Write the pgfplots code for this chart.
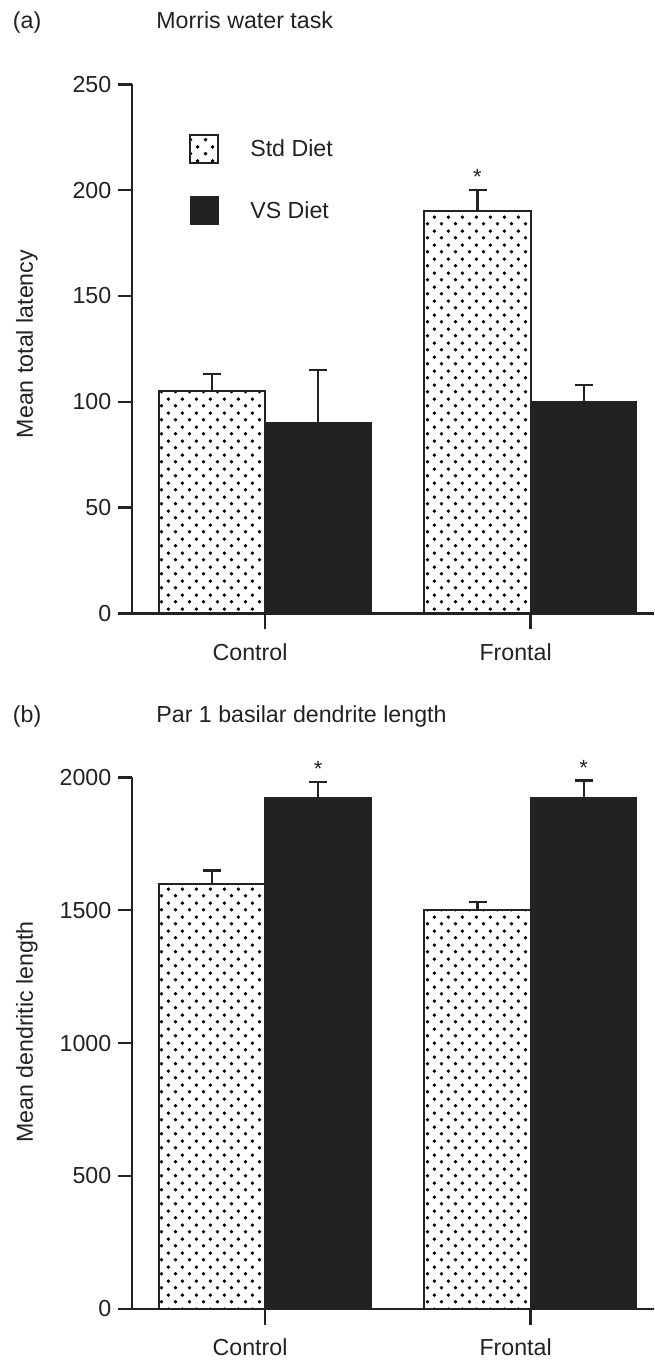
\documentclass[border=0pt]{standalone}
\usepackage{fontspec}
\setmainfont{Liberation Sans}
\usepackage{pgfplots}
\pgfplotsset{compat=1.18}
\usetikzlibrary{patterns}

\definecolor{ink}{HTML}{222222}

% staggered dot fill of the Std Diet bars
\pgfdeclarepatternformonly{stddots}{\pgfqpoint{0pt}{0pt}}{\pgfqpoint{7.2pt}{7pt}}{\pgfqpoint{7.2pt}{7pt}}{%
  \pgfpathcircle{\pgfqpoint{1.8pt}{1.75pt}}{1pt}%
  \pgfpathcircle{\pgfqpoint{5.4pt}{5.25pt}}{1pt}%
  \pgfusepath{fill}}

\pgfplotsset{
  panel/.style={
    scale only axis, width=260.85pt,
    axis x line*=bottom, axis y line*=left,
    axis line style={draw=ink, line width=1.2pt, -},
    xmin=0.5, xmax=2.4646, ymin=0,
    xtick={1,2}, xticklabels={Control,Frontal},
    tick align=outside,
    major tick length=7pt,
    xtick style={/pgfplots/major tick length=8pt},
    tick style={draw=ink, line width=1.2pt},
    ytick style={draw=ink, line width=1.2pt},
    minor tick num=0,
    /pgf/number format/assume math mode=true,
    /pgf/number format/1000 sep={},
    tick label style={font=\fontsize{11.6}{13}\selectfont, text=ink},
    xticklabel style={xshift=-7.5pt, yshift=-4.5pt},
    clip=false,
    error bars/error bar style={draw=ink, line width=1.2pt},
    error bars/error mark=|,
    error bars/error mark options={draw=ink, line width=1.2pt, mark size=4.5pt},
  },
  stdbar/.style={ybar, bar width=0.4, bar shift=0pt, draw=ink, line width=1pt,
    pattern=stddots, pattern color=black,
    error bars/y dir=plus, error bars/y explicit},
  vsbar/.style={ybar, bar width=0.4, bar shift=0pt, draw=ink, line width=0.6pt,
    fill=ink,
    error bars/y dir=plus, error bars/y explicit},
}

\begin{document}
\begin{tikzpicture}
\useasboundingbox (0pt,0pt) rectangle (327pt,-680.5pt);

\tikzset{lbl/.style={font=\fontsize{11.6}{13}\selectfont, text=ink, inner sep=0pt}}

% ---- panel (a)
\node[lbl, anchor=base west] at (6.25pt,-14pt) {(a)};
\node[lbl, anchor=base west] at (78pt,-14pt) {Morris water task};
\node[lbl, rotate=90] at (13.5pt,-172pt) {Mean total latency};

\begin{axis}[panel, at={(66.15pt,-306.65pt)}, anchor=south west,
  height=264.5pt, ymax=250, ytick={0,50,100,150,200,250},
  legend style={draw=none, fill=none, at={(0,1)}, anchor=north west,
    xshift=28.5pt, yshift=-24.7pt, inner sep=0pt, outer sep=0pt,
    row sep=16.2pt, font=\fontsize{11.6}{13}\selectfont, text=ink,
    nodes={inner sep=0pt}, /tikz/column 1/.style={column sep=15.5pt}},
  legend cell align=left]
\addplot[stdbar, legend image code/.code={\draw[draw=ink, line width=1pt, pattern=stddots, pattern color=black] (0pt,-6.5pt) rectangle (14pt,7.5pt);}]
  coordinates {(0.8,105) +- (0,8) (1.8,190) +- (0,10)};
\addplot[vsbar, legend image code/.code={\draw[draw=ink, fill=ink] (0pt,-6.5pt) rectangle (14pt,7.5pt);}]
  coordinates {(1.2,90) +- (0,25) (2.2,100) +- (0,8)};
\legend{Std Diet, VS Diet}
\node[text=ink, inner sep=0pt, font=\fontsize{11}{12}\selectfont] at (axis cs:1.8,200) [yshift=6.5pt] {*};
\end{axis}

% ---- panel (b)
\node[lbl, anchor=base west] at (6.25pt,-361pt) {(b)};
\node[lbl, anchor=base west] at (78pt,-361pt) {Par 1 basilar dendrite length};
\node[lbl, rotate=90] at (13.5pt,-516pt) {Mean dendritic length};

\begin{axis}[panel, at={(66.15pt,-654.35pt)}, anchor=south west,
  height=265.7pt, ymax=2000, ytick={0,500,1000,1500,2000}]
\addplot[stdbar] coordinates {(0.8,1600) +- (0,50) (1.8,1500) +- (0,30)};
\addplot[vsbar] coordinates {(1.2,1925) +- (0,57) (2.2,1925) +- (0,63)};
\node[text=ink, inner sep=0pt, font=\fontsize{11}{12}\selectfont] at (axis cs:1.2,1982) [yshift=6.5pt] {*};
\node[text=ink, inner sep=0pt, font=\fontsize{11}{12}\selectfont] at (axis cs:2.2,1988) [yshift=6.5pt] {*};
\end{axis}
\end{tikzpicture}
\end{document}
